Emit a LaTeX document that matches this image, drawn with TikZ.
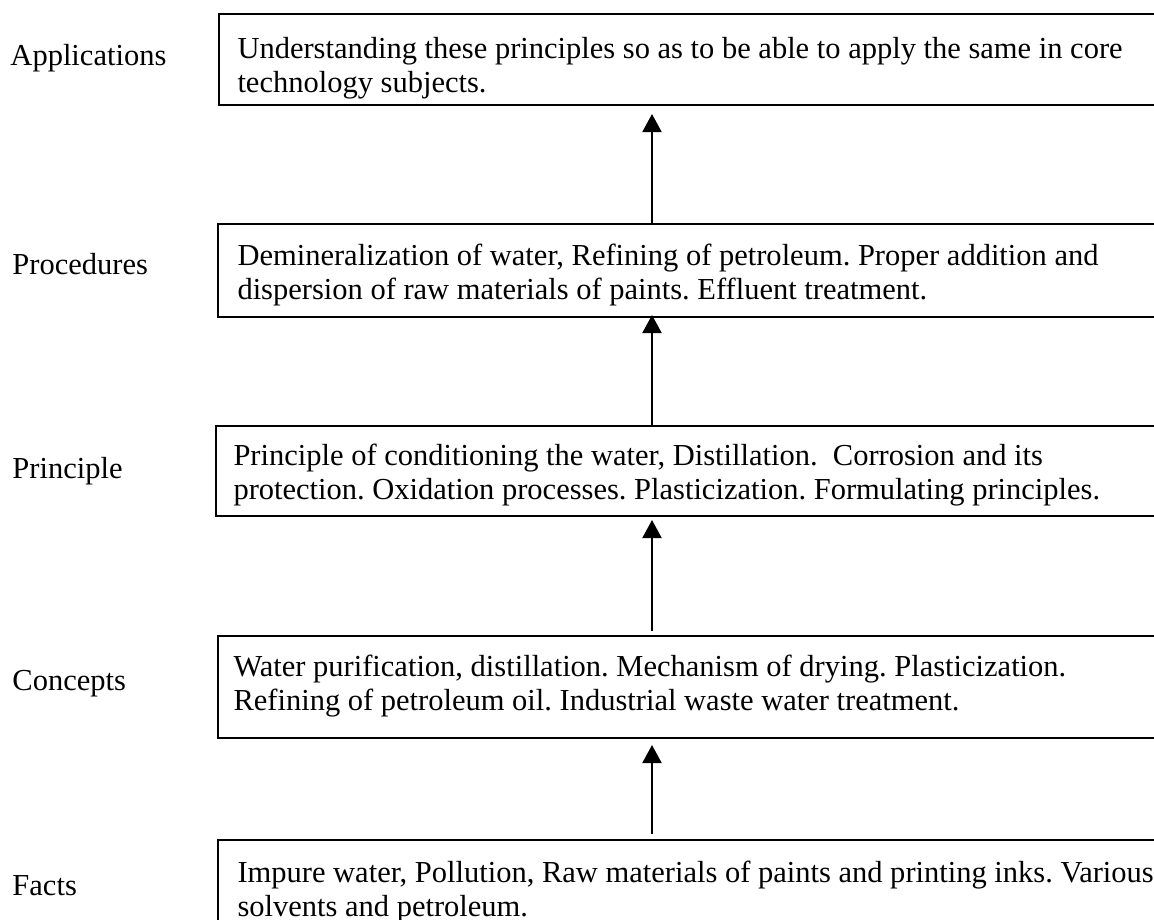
\documentclass[tikz,border=0pt]{standalone}
\usepackage{fontspec}
\setmainfont{Liberation Serif}
\usetikzlibrary{arrows.meta}

\begin{document}
\begin{tikzpicture}[x=0.4pt, y=-0.4pt, font=\fontsize{12.2}{13.6}\selectfont\frenchspacing]
	\useasboundingbox (0,0) rectangle (1154,920);
	\clip (0,0) rectangle (1154,920);
	% Define styles
	\tikzset{
		level/.style={draw, line width=0.8pt, anchor=north west, minimum width=381pt, inner sep=0pt},
		leveltext/.style={anchor=north west, inner sep=0pt, align=left},
		levelname/.style={anchor=base west, inner sep=0pt},
		up/.style={-{Triangle[width=7.6pt,length=7.2pt]}, line width=0.8pt},
	}

	% Boxes
	\node[level, minimum height=36.4pt] (app) at (218,13) {};
	\node[level, minimum height=37.2pt] (proc) at (217,223) {};
	\node[level, minimum height=36pt] (prin) at (215,425) {};
	\node[level, minimum height=40.8pt] (conc) at (217,635) {};
	\node[level, minimum height=40pt] (fact) at (217,839) {};

	% Names on the left
	\node[levelname] (appname) at (10,66) {Applications};
	\node[levelname] (procname) at (12,274) {Procedures};
	\node[levelname] (prinname) at (12,478) {Principle};
	\node[levelname] (concname) at (12,690) {Concepts};
	\node[levelname] (factname) at (12,895) {Facts};

	% Texts in the boxes
	\node[leveltext] (apptext) at (237,34) {\strut Understanding these principles so as to be able to apply the same in core\\technology subjects.};
	\node[leveltext] (proctext) at (237,241) {\strut Demineralization of water, Refining of petroleum. Proper addition and\\dispersion of raw materials of paints. Effluent treatment.};
	\node[leveltext] (printext) at (233,441) {\strut Principle of conditioning the water, Distillation.\ \ Corrosion and its\\protection. Oxidation processes. Plasticization. Formulating principles.};
	\node[leveltext] (conctext) at (233,652) {\strut Water purification, distillation. Mechanism of drying. Plasticization.\\Refining of petroleum oil. Industrial waste water treatment.};
	\node[leveltext] (facttext) at (237,858) {\strut Impure water, Pollution, Raw materials of paints and printing inks. Various\\solvents and petroleum.};

	% Arrows
	\coordinate (mid) at (652,0);
	\draw[up, shorten >=3.2pt] (proc.north -| mid) -- (app.south -| mid);
	\draw[up, shorten >=-1.2pt] (prin.north -| mid) -- (proc.south -| mid);
	\draw[up, shorten >=1.2pt, shorten <=1.6pt] (conc.north -| mid) -- (prin.south -| mid);
	\draw[up, shorten >=2.4pt, shorten <=2pt] (fact.north -| mid) -- (conc.south -| mid);
\end{tikzpicture}
\end{document}
